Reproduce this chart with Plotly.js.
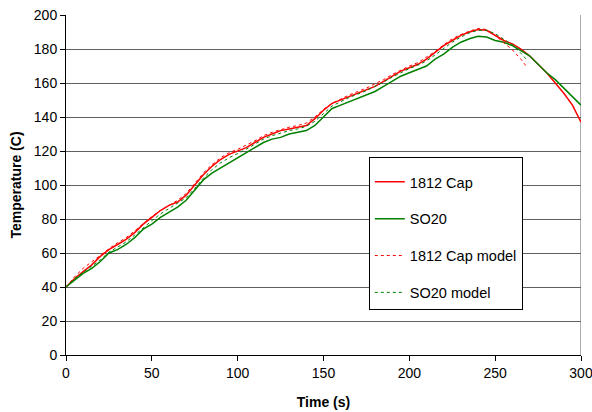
<!DOCTYPE html>
<html><head><meta charset="utf-8">
<script src="https://cdn.plot.ly/plotly-3.0.1.min.js"></script>
<style>html,body{margin:0;padding:0;background:#fff}#chart{width:592px;height:412px}</style>
</head><body><div id="chart"></div>
<script>
const timeData = [0,5,10,15,20,25,30,35,40,45,50,55,60,65,70,75,80,85,90,95,100,105,110,115,120,125,130,135,140,145,150,155,160,165,170,175,180,185,190,195,200,205,210,215,220,225,230,235,240,245,250,255,260,265,270,275,280,285,290,295,300];
const cap1812 = [40,45,49,53,58,62,65,68,72,77,81,85,88,90,94,100,106,111,115,118,120,122,125,128,130,132,133,134,135,139,144,148,150,152,154,156,158,161,164,167,169,171,174,178,182,185,188,190,191.5,191,188,185,183,180,176,171,166,160,154,147,137];
const so20 = [40,44,48,51,55,60,62,65,69,74,77,81,84,87,91,97,103,107,110,113,116,119,122,125,127,128,130,131,132,135,140,145,147,149,151,153,155,158,161,164,166,168,170,174,177,181,184,186,187.5,187,185,184,182,179,176,171,166,162,157,152,147];
const timeCapModel = [0,5,10,15,20,25,30,35,40,45,50,55,60,65,70,75,80,85,90,95,100,105,110,115,120,125,130,135,140,145,150,155,160,165,170,175,180,185,190,195,200,205,210,215,220,225,230,235,240,245,250,255,260,265,268];
const cap1812Model = [40,46,51,55,58.5,62.5,66,69,73,77.5,81.5,85,88,91,95,101,107,112,116,119,121,123.5,126,129,131,132.5,134,135,136.5,140,144.5,148,150.5,153,155,157,159.5,162,165,167.5,170,172,175,178.5,182.5,186,188.5,190.5,192,191.5,188,184,179.5,174,170];
const timeSoModel = [0,5,10,15,20,25,30,35,40,45,50,55,60,65,70,75,80,85,90,95,100,105,110,115,120,125,130,135,140,145,150,155,160,165,170,175,180,185,190,195,200,205,210,215,220,225,230,235,240,245,250,255,260,265,269];
const so20Model = [40,45,48.5,52,56,60.5,63.5,66.5,70.5,75,79,83,86,89,92.5,98,104,109,113,116,118.5,121,124,127,129,130.5,132,133,134.5,137.5,142,146.5,149,151.5,153.5,155.5,158,160.5,163.5,166,168.5,170.5,173,176.5,180.5,184,187,189.5,191,191,189,186,182.5,177.5,173];

const fam = 'Liberation Sans, Arial, sans-serif';
const traces = [
  {x: timeData, y: cap1812, name: '1812 Cap', legendgroup: 'a', mode: 'lines', line: {color: '#ff0000', width: 1.5}},
  {x: timeData, y: so20, name: 'SO20', legendgroup: 'b', mode: 'lines', line: {color: '#008000', width: 1.5}},
  {x: timeCapModel, y: cap1812Model, name: '1812 Cap model', legendgroup: 'c', mode: 'lines', line: {color: '#ff0000', width: 1, dash: 'dot'}},
  {x: timeSoModel, y: so20Model, name: 'SO20 model', legendgroup: 'd', mode: 'lines', line: {color: '#008000', width: 1, dash: 'dot'}}
];
const layout = {
  width: 592, height: 412,
  margin: {l: 66, r: 11, t: 15, b: 57},
  paper_bgcolor: '#fff', plot_bgcolor: '#fff',
  font: {family: fam, size: 14, color: '#000'},
  showlegend: true,
  legend: {x: 0.588, y: 0.582, xanchor: 'left', yanchor: 'top', bgcolor: '#fff', bordercolor: '#000', borderwidth: 1,
           font: {family: fam, size: 14.5, color: '#000'}, tracegroupgap: 15, traceorder: 'grouped',
           title: {text: ' ', font: {family: fam, size: 6, color: '#000'}}},
  xaxis: {range: [0, 300], dtick: 50, tick0: 0, showline: true, linecolor: '#000', linewidth: 1,
          ticks: 'outside', ticklen: 5, tickcolor: '#000', showgrid: false, zeroline: false,
          ticklabeloverflow: 'allow',
          tickfont: {family: fam, size: 14, color: '#000'},
          title: {text: '<b>Time (s)</b>', font: {family: fam, size: 14, color: '#000'}, standoff: 17}},
  yaxis: {range: [0, 200], dtick: 20, tick0: 0, showline: true, linecolor: '#000', linewidth: 1,
          ticks: 'outside', ticklen: 5, tickcolor: '#000', showgrid: true, gridcolor: '#606060', gridwidth: 1,
          zeroline: false, tickfont: {family: fam, size: 14, color: '#000'},
          title: {text: '<b>Temperature (C)</b>', font: {family: fam, size: 14, color: '#000'}, standoff: 8}},
  shapes: [{type: 'line', xref: 'x', yref: 'y', x0: 300, x1: 300, y0: 0, y1: 200, line: {color: '#b0b0b0', width: 2}, layer: 'below'}]
};
Plotly.newPlot('chart', traces, layout, {displayModeBar: false, staticPlot: true});
</script></body></html>
